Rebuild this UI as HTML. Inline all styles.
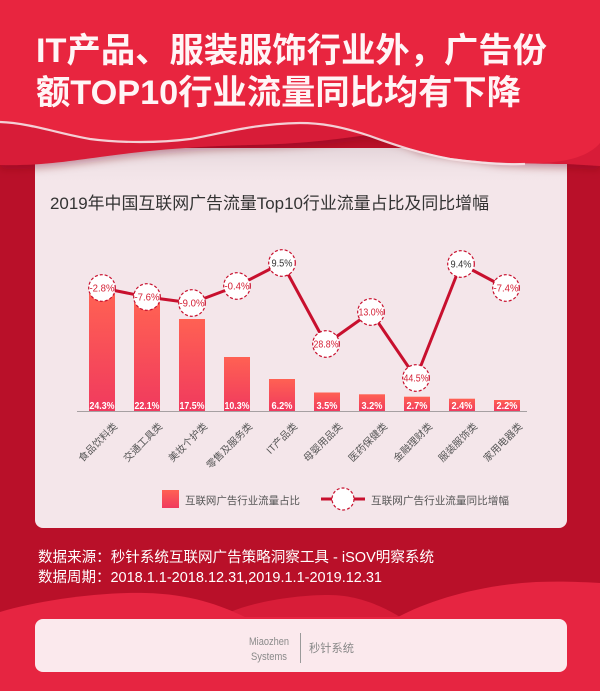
<!DOCTYPE html>
<html><head><meta charset="utf-8">
<style>
html,body{margin:0;padding:0;background:#b91029;}
svg{display:block;}
text{font-family:"Liberation Sans","Noto Sans CJK SC",sans-serif;}
</style></head>
<body>
<svg width="600" height="691" viewBox="0 0 600 691" xmlns="http://www.w3.org/2000/svg">
<defs>
<linearGradient id="bar" x1="0" y1="0" x2="0" y2="1">
<stop offset="0" stop-color="#ff6153"/>
<stop offset="1" stop-color="#f03a5e"/>
</linearGradient>
<linearGradient id="shade" x1="0" y1="0" x2="0" y2="1">
<stop offset="0" stop-color="#d9c9ce"/>
<stop offset="1" stop-color="#f4e6ea" stop-opacity="0"/>
</linearGradient>
<filter id="sh" x="-5%" y="-5%" width="110%" height="130%">
<feDropShadow dx="0" dy="4" stdDeviation="4" flood-color="#7a0a1a" flood-opacity="0.35"/>
</filter>
</defs>

<!-- frame -->
<rect x="0" y="0" width="600" height="691" fill="#b91029"/>

<!-- main card -->
<rect x="35" y="148" width="532" height="380" rx="8" fill="#f4e6ea"/>
<rect x="35" y="148" width="532" height="40" fill="url(#shade)" opacity="0.6"/>

<!-- second (darker) red wave layer -->
<path d="M0,0 H600 V166 L567,164 C540,164 520,163 500,162 L420,150 C400,140 380,134 360,136 C330,140 300,144 250,145 C200,146 150,150 100,157 C70,161 40,166 0,165 Z" fill="#d81c37" filter="url(#sh)"/>

<!-- main red top wave -->
<path d="M0,0 H600 V143 C590,155 570,162 540,163 C510,164 480,162 450,158 C420,152 400,146 370,135 C340,125 320,122 300,122 C250,123 220,133 190,138 C160,142 120,142 90,138 C60,133 30,122 0,121 Z" fill="#e8253f"/>
<path d="M0,122 C30,123 60,134 90,139 C120,143 160,143 190,139 C220,134 250,124 300,123 C320,123 340,126 370,136 C400,147 420,153 450,159 C480,163 505,165 525,164" fill="none" stroke="#f7e3e7" stroke-width="2.2" opacity="0.9"/>

<!-- title -->
<text x="36" y="62" font-size="34" font-weight="bold" fill="#fff5f6" textLength="511" lengthAdjust="spacingAndGlyphs">IT产品、服装服饰行业外，广告份</text>
<text x="36" y="104" font-size="34" font-weight="bold" fill="#fff5f6" textLength="485" lengthAdjust="spacingAndGlyphs">额TOP10行业流量同比均有下降</text>

<!-- chart title -->
<text x="50" y="209" font-size="16.8" fill="#333" textLength="439" lengthAdjust="spacingAndGlyphs">2019年中国互联网广告流量Top10行业流量占比及同比增幅</text>

<!-- bars -->
<g fill="url(#bar)">
<rect x="89" y="294" width="26" height="117"/>
<rect x="134" y="303" width="26" height="108"/>
<rect x="179" y="319" width="26" height="92"/>
<rect x="224" y="357" width="26" height="54"/>
<rect x="269" y="379" width="26" height="32"/>
<rect x="314" y="392.5" width="26" height="18.5"/>
<rect x="359" y="394.3" width="26" height="16.7"/>
<rect x="404" y="396.7" width="26" height="14.3"/>
<rect x="449" y="398.7" width="26" height="12.3"/>
<rect x="494" y="400" width="26" height="11"/>
</g>
<line x1="77" y1="411.5" x2="527" y2="411.5" stroke="#a6a0a2" stroke-width="1"/>

<!-- bar value labels -->
<g font-size="10.5" fill="#fff" text-anchor="middle" font-weight="bold">
<text x="102" y="409" textLength="25" lengthAdjust="spacingAndGlyphs">24.3%</text>
<text x="147" y="409" textLength="25" lengthAdjust="spacingAndGlyphs">22.1%</text>
<text x="192" y="409" textLength="25" lengthAdjust="spacingAndGlyphs">17.5%</text>
<text x="237" y="409" textLength="25" lengthAdjust="spacingAndGlyphs">10.3%</text>
<text x="282" y="409" textLength="21" lengthAdjust="spacingAndGlyphs">6.2%</text>
<text x="327" y="409" textLength="21" lengthAdjust="spacingAndGlyphs">3.5%</text>
<text x="372" y="409" textLength="21" lengthAdjust="spacingAndGlyphs">3.2%</text>
<text x="417" y="409" textLength="21" lengthAdjust="spacingAndGlyphs">2.7%</text>
<text x="462" y="409" textLength="21" lengthAdjust="spacingAndGlyphs">2.4%</text>
<text x="507" y="409" textLength="21" lengthAdjust="spacingAndGlyphs">2.2%</text>
</g>

<!-- line -->
<polyline points="102,288 147,297 192,303 237,286 282,263 326,344 371,312 416,378 461,264 506,288" fill="none" stroke="#c8102e" stroke-width="3" stroke-linejoin="round"/>

<!-- circles -->
<g fill="#fff" stroke="#c8102e" stroke-width="1.2" stroke-dasharray="3 2">
<circle cx="102" cy="288" r="13.3"/>
<circle cx="147" cy="297" r="13.3"/>
<circle cx="192" cy="303" r="13.3"/>
<circle cx="237" cy="286" r="13.3"/>
<circle cx="282" cy="263" r="13.3"/>
<circle cx="326" cy="344" r="13.3"/>
<circle cx="371" cy="312" r="13.3"/>
<circle cx="416" cy="378" r="13.3"/>
<circle cx="461" cy="264" r="13.3"/>
<circle cx="506" cy="288" r="13.3"/>
</g>
<g font-size="10" text-anchor="middle">
<text x="102" y="291.5" fill="#d42035" textLength="25" lengthAdjust="spacingAndGlyphs">-2.8%</text>
<text x="147" y="300.5" fill="#d42035" textLength="25" lengthAdjust="spacingAndGlyphs">-7.6%</text>
<text x="192" y="306.5" fill="#d42035" textLength="25" lengthAdjust="spacingAndGlyphs">-9.0%</text>
<text x="237" y="289.5" fill="#d42035" textLength="25" lengthAdjust="spacingAndGlyphs">-0.4%</text>
<text x="282" y="266.5" fill="#333" textLength="21" lengthAdjust="spacingAndGlyphs">9.5%</text>
<text x="326" y="347.5" fill="#d42035" textLength="25" lengthAdjust="spacingAndGlyphs">28.8%</text>
<text x="371" y="315.5" fill="#d42035" textLength="25" lengthAdjust="spacingAndGlyphs">13.0%</text>
<text x="416" y="381.5" fill="#d42035" textLength="25" lengthAdjust="spacingAndGlyphs">44.5%</text>
<text x="461" y="267.5" fill="#333" textLength="21" lengthAdjust="spacingAndGlyphs">9.4%</text>
<text x="506" y="291.5" fill="#d42035" textLength="25" lengthAdjust="spacingAndGlyphs">-7.4%</text>
</g>

<!-- x-axis labels -->
<g font-size="10" fill="#555" text-anchor="end">
<text x="118" y="427" transform="rotate(-45 118 427)">食品饮料类</text>
<text x="163" y="427" transform="rotate(-45 163 427)">交通工具类</text>
<text x="208" y="427" transform="rotate(-45 208 427)">美妆个护类</text>
<text x="253" y="427" transform="rotate(-45 253 427)">零售及服务类</text>
<text x="298" y="427" transform="rotate(-45 298 427)">IT产品类</text>
<text x="343" y="427" transform="rotate(-45 343 427)">母婴用品类</text>
<text x="388" y="427" transform="rotate(-45 388 427)">医药保健类</text>
<text x="433" y="427" transform="rotate(-45 433 427)">金融理财类</text>
<text x="478" y="427" transform="rotate(-45 478 427)">服装服饰类</text>
<text x="523" y="427" transform="rotate(-45 523 427)">家用电器类</text>
</g>

<!-- legend -->
<rect x="162" y="490" width="17" height="18" fill="url(#bar)"/>
<text x="185" y="504" font-size="10.5" fill="#555" textLength="115" lengthAdjust="spacingAndGlyphs">互联网广告行业流量占比</text>
<line x1="321" y1="499" x2="365" y2="499" stroke="#c8102e" stroke-width="3"/>
<circle cx="343" cy="499" r="11" fill="#fff" stroke="#c8102e" stroke-width="1.2" stroke-dasharray="3 2"/>
<text x="371" y="504" font-size="10.5" fill="#555" textLength="138" lengthAdjust="spacingAndGlyphs">互联网广告行业流量同比增幅</text>

<!-- source text -->
<text x="38" y="562" font-size="14.5" fill="#fff" textLength="396" lengthAdjust="spacingAndGlyphs">数据来源：秒针系统互联网广告策略洞察工具 - iSOV明察系统</text>
<text x="38" y="582" font-size="14.5" fill="#fff" textLength="344" lengthAdjust="spacingAndGlyphs">数据周期：2018.1.1-2018.12.31,2019.1.1-2019.12.31</text>

<!-- bottom waves -->
<path d="M200,691 L230,612 C260,600 300,595 329,595 C360,595 385,608 400,617 L420,691 Z" fill="#d81d38"/>
<path d="M0,691 V612 C40,600 100,592 145,593 C190,594 220,605 245,617 L260,691 Z" fill="#e62541"/>
<path d="M398,617 C430,600 480,585 536,582 C560,581 585,582 600,583 V691 H380 Z" fill="#e62541"/>
<rect x="0" y="617" width="600" height="74" fill="#e62541"/>

<!-- footer card -->
<rect x="35" y="619" width="532" height="53" rx="8" fill="#fbe9ed"/>
<text x="249" y="645" font-size="11" fill="#8a8a8a" textLength="40" lengthAdjust="spacingAndGlyphs">Miaozhen</text>
<text x="251" y="660" font-size="11" fill="#8a8a8a" textLength="36" lengthAdjust="spacingAndGlyphs">Systems</text>
<line x1="300.5" y1="633" x2="300.5" y2="663" stroke="#9a9a9a" stroke-width="1"/>
<text x="309" y="652" font-size="11.5" fill="#888" textLength="45" lengthAdjust="spacingAndGlyphs">秒针系统</text>
</svg>
</body></html>
